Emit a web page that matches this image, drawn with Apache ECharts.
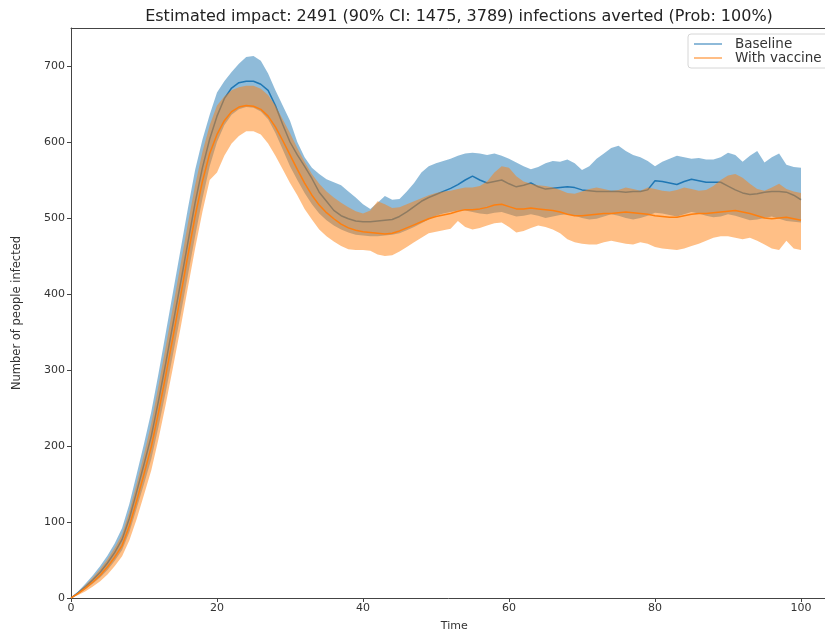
<!DOCTYPE html>
<html>
<head>
<meta charset="utf-8">
<script src="https://cdn.jsdelivr.net/npm/echarts@6/dist/echarts.min.js"></script>
<style>
  html, body { margin: 0; padding: 0; background: #fff; }
  #chart { width: 825px; height: 630px; }
</style>
</head>
<body>
<div id="chart"></div>
<script>
// Simulated epidemic curves: mean and 90% interval per day, with and without vaccination
const days = [
  0, 1, 2, 3, 4, 5, 6, 7, 8, 9, 10, 11, 12, 13, 14, 15, 16, 17, 18, 19,
  20, 21, 22, 23, 24, 25, 26, 27, 28, 29, 30, 31, 32, 33, 34, 35, 36, 37, 38, 39,
  40, 41, 42, 43, 44, 45, 46, 47, 48, 49, 50, 51, 52, 53, 54, 55, 56, 57, 58, 59,
  60, 61, 62, 63, 64, 65, 66, 67, 68, 69, 70, 71, 72, 73, 74, 75, 76, 77, 78, 79,
  80, 81, 82, 83, 84, 85, 86, 87, 88, 89, 90, 91, 92, 93, 94, 95, 96, 97, 98, 99, 100
];

const baselineMean = [
  0, 7, 15, 24, 34, 46, 60, 77, 105, 140, 176, 213, 260, 310, 362, 414, 467, 520, 566, 604,
  634, 657, 671, 678, 680, 680, 676, 668, 648, 623, 600, 583, 568, 552, 534, 522, 510, 503, 499, 496,
  495, 495, 496, 497, 498, 502, 508, 515, 522, 527, 531, 535, 539, 544, 550, 555, 550, 546, 548, 550,
  545, 541, 543, 546, 541, 538, 539, 540, 541, 540, 537, 536, 535, 535, 535, 535, 534, 535, 535, 537,
  549, 548, 546, 544, 548, 551, 549, 547, 547, 547, 542, 537, 533, 531, 532, 534, 535, 535, 534, 530, 524
];
const baselineLow = [
  0, 5, 12, 19, 27, 37, 49, 63, 87, 118, 150, 183, 226, 272, 322, 372, 424, 476, 525, 568,
  600, 622, 636, 643, 646, 645, 640, 630, 612, 590, 568, 550, 533, 518, 506, 497, 490, 485, 481, 478,
  477, 476, 476, 477, 478, 480, 484, 488, 493, 498, 503, 506, 508, 510, 510, 508, 506, 505, 507, 508,
  505, 502, 503, 505, 503, 500, 502, 504, 505, 503, 500, 498, 499, 502, 505, 503, 500, 498, 500, 503,
  507, 506, 504, 502, 505, 508, 506, 503, 501, 502, 505, 503, 500, 497, 498, 500, 502, 499, 496, 495, 494
];
const baselineHigh = [
  0, 9, 19, 30, 42, 56, 72, 92, 124, 163, 203, 245, 296, 350, 404, 458, 512, 563, 603, 636,
  665, 680, 692, 703, 712, 713, 707, 690, 668, 648, 628, 600, 580, 566, 558, 551, 547, 543, 535, 527,
  518, 512, 520, 529, 524, 525, 535, 546, 560, 568, 572, 575, 578, 582, 585, 586, 585, 583, 585, 582,
  578, 573, 568, 564, 567, 572, 575, 574, 577, 572, 563, 568, 578, 585, 592, 595, 588, 583, 580, 575,
  568, 574, 578, 582, 580, 578, 579, 577, 577, 580, 586, 583, 574, 582, 588, 573, 580, 585, 570, 567, 566
];

const vaccineMean = [
  0, 6, 13, 21, 30, 41, 54, 69, 95, 128, 163, 199, 245, 294, 345, 397, 450, 502, 548, 585,
  610, 628, 640, 646, 648, 647, 643, 634, 620, 602, 583, 564, 546, 530, 517, 507, 499, 492, 487, 484,
  482, 481, 480, 479, 480, 483, 487, 491, 495, 499, 502, 504, 506, 509, 511, 511, 512, 514, 517, 518,
  515, 512, 512, 513, 512, 511, 510, 508, 505, 503, 503, 504, 505, 506, 506, 507, 508, 507, 506, 505,
  503, 502, 501, 501, 503, 505, 506, 506, 507, 508, 509, 510, 508, 506, 503, 500, 499, 500, 501, 499, 497
];
const vaccineLow = [
  0, 4, 9, 15, 22, 31, 42, 55, 76, 104, 136, 168, 210, 256, 305, 355, 408, 460, 508, 550,
  560, 582, 598, 608, 614, 614, 610, 598, 582, 564, 546, 530, 512, 498, 485, 476, 469, 463, 459, 458,
  458, 457, 452, 450, 451, 456, 462, 468, 474, 480, 482, 484, 486, 496, 488, 485, 487, 490, 493, 494,
  488, 481, 483, 487, 490, 488, 485, 480, 472, 468, 466, 465, 465, 468, 470, 468, 466, 465, 468, 466,
  462, 460, 459, 458, 460, 463, 466, 470, 474, 476, 476, 474, 472, 474, 470, 465, 460, 458, 470, 460, 458
];
const vaccineHigh = [
  0, 8, 17, 27, 38, 51, 66, 84, 114, 151, 189, 230, 280, 332, 385, 438, 492, 543, 587, 622,
  648, 660, 668, 672, 674, 674, 670, 662, 648, 630, 612, 592, 574, 558, 545, 535, 527, 520, 514, 509,
  506, 510, 522, 518, 513, 514, 518, 522, 526, 530, 533, 535, 536, 538, 540, 540, 542, 548, 560, 568,
  566, 555, 548, 545, 543, 542, 540, 537, 533, 532, 535, 538, 540, 538, 536, 537, 540, 538, 536, 540,
  538, 536, 535, 537, 540, 538, 536, 537, 542, 550, 556, 558, 553, 545, 538, 536, 540, 545, 538, 535, 533
];

const yTicks = [0, 100, 200, 300, 400, 500, 600, 700];
const xTicks = [0, 20, 40, 60, 80, 100];

const BLUE = '#1f77b4';
const ORANGE = '#ff7f0e';
const FONT = 'DejaVu Sans';
const SPINE = '#444';
// Legend swatch: a thin horizontal stroke at the left of a wider, invisible box
const LINE_ICON = 'path://M0,0 M0,9.2 L56,9.2 L56,10.8 L0,10.8 Z M72,20';

// Filled interval between two curves, drawn as one polygon through the axis scales
function band(name, low, high, color, z) {
  return {
    type: 'custom',
    name: name,
    z: z,
    silent: true,
    encode: { x: 0, y: [1, 2] },
    data: days.map((d, i) => [d, low[i], high[i]]),
    renderItem: function (params, api) {
      if (params.dataIndex !== 0) return null;
      const pts = [];
      for (let i = 0; i < days.length; i++) pts.push(api.coord([days[i], high[i]]));
      for (let i = days.length - 1; i >= 0; i--) pts.push(api.coord([days[i], low[i]]));
      return {
        type: 'polygon',
        shape: { points: pts },
        style: { fill: color, opacity: 0.5, stroke: null }
      };
    }
  };
}

function meanLine(name, values, color, z) {
  return {
    type: 'line',
    name: name,
    z: z,
    symbol: 'none',
    showSymbol: false,
    lineStyle: { color: color, width: 1.5 },
    itemStyle: { color: color },
    data: days.map((d, i) => [d, values[i]])
  };
}

const chart = echarts.init(document.getElementById('chart'), null, { renderer: 'canvas' });
chart.setOption({
  animation: false,
  backgroundColor: '#ffffff',
  title: {
    text: 'Estimated impact: 2491 (90% CI: 1475, 3789) infections averted (Prob: 100%)',
    left: 454,
    textAlign: 'center',
    top: 4,
    textStyle: { fontFamily: FONT, fontSize: 16, fontWeight: 'normal', color: '#222' }
  },
  legend: {
    data: [
      { name: 'Baseline', icon: LINE_ICON },
      { name: 'With vaccine', icon: LINE_ICON }
    ],
    orient: 'vertical',
    left: 688,
    top: 34,
    itemWidth: 36,
    itemHeight: 10,
    itemGap: 0,
    padding: [3, 8, 3, 6],
    borderColor: '#d6d6d6',
    borderWidth: 1,
    borderRadius: 3,
    backgroundColor: 'rgba(255,255,255,0.8)',
    textStyle: { fontFamily: FONT, fontSize: 13.5, lineHeight: 14, color: '#333' }
  },
  grid: {
    left: 71, top: 28, width: 766.5, height: 570,
    outerBoundsMode: 'none',
    containLabel: false,
    show: false
  },
  xAxis: [
    {
      type: 'value',
      min: 0, max: 105, interval: 20,
      name: 'Time',
      nameLocation: 'middle',
      nameGap: 23,
      nameTextStyle: { fontFamily: FONT, fontSize: 11, color: '#333' },
      splitLine: { show: false },
      axisLine: { show: true, lineStyle: { color: SPINE } },
      axisTick: { show: true, length: 4, lineStyle: { color: SPINE }, customValues: xTicks },
      axisLabel: { fontFamily: FONT, fontSize: 11, color: '#333', margin: 5, customValues: xTicks }
    },
    {
      // upper frame line of the plot area
      type: 'value',
      position: 'top',
      min: 0, max: 105,
      splitLine: { show: false },
      axisLine: { show: true, lineStyle: { color: SPINE } },
      axisTick: { show: false },
      axisLabel: { show: false }
    }
  ],
  yAxis: {
    type: 'value',
    min: 0, max: 750, interval: 100,
    name: 'Number of people infected',
    nameLocation: 'middle',
    nameGap: 48,
    nameTextStyle: { fontFamily: FONT, fontSize: 11.5, color: '#333' },
    splitLine: { show: false },
    axisLine: { show: true, lineStyle: { color: SPINE } },
    axisTick: { show: true, length: 4, lineStyle: { color: SPINE }, customValues: yTicks },
    axisLabel: { fontFamily: FONT, fontSize: 11, color: '#333', margin: 6, customValues: yTicks }
  },
  series: [
    band('baselineBand', baselineLow, baselineHigh, BLUE, 2),
    meanLine('Baseline', baselineMean, BLUE, 3),
    band('vaccineBand', vaccineLow, vaccineHigh, ORANGE, 4),
    meanLine('With vaccine', vaccineMean, ORANGE, 5)
  ]
});
</script>
</body>
</html>
